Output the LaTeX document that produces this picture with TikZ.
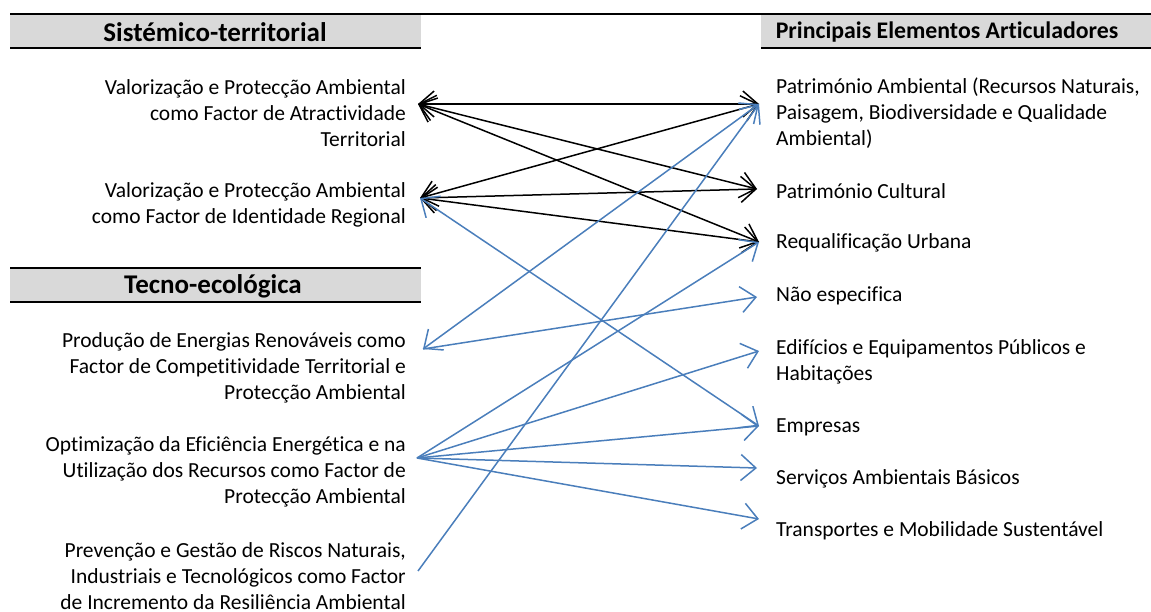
\documentclass[tikz,border=0pt]{standalone}
\usepackage{fontspec}
\setmainfont{Carlito}[Ligatures={NoCommon}]
\usetikzlibrary{arrows.meta}

\begin{document}
\begin{tikzpicture}[x=1pt,y=-1pt,
  lbl/.style={font=\fontsize{21.5}{26}\selectfont, inner sep=0pt, align=right, anchor=east},
  rlbl/.style={font=\fontsize{21.5}{26}\selectfont, inner sep=0pt, align=left, anchor=west},
  hdr/.style={font=\fontsize{27}{30}\selectfont\bfseries, inner sep=0pt},
  band/.style={fill=black!15, draw=none},
  rule/.style={line width=2pt},
  tip/.tip={Straight Barb[length=15pt,width=26pt]},
  blk/.style={line width=1.5pt, tip-tip},
  blu/.style={line width=1.5pt, draw={rgb,255:red,74;green,126;blue,187}, -tip},
  blu2/.style={blu, tip-tip}]
\useasboundingbox (0,0) rectangle (1151,612);

% header bands
\fill[band] (10,14) rectangle (421,48);
\fill[band] (761,14) rectangle (1151,48);
\fill[band] (10,268) rectangle (421,302);
\draw[rule] (10,14) -- (1151,14);
\draw[rule] (10,48) -- (421,48);
\draw[rule] (761,48) -- (1151,48);
\draw[rule] (10,268) -- (421,268);
\draw[rule] (10,302) -- (421,302);
\node[hdr] (hsis) at (215,32) {Sistémico-territorial};
\node[hdr, font=\fontsize{23.8}{28}\selectfont\bfseries] (hprin) at (947,32) {Principais Elementos Articuladores};
\node[hdr] (htec) at (213,286) {Tecno-ecológica};

% left column
\node[lbl] (ta) at (406,113) {Valorização e Protecção Ambiental\\como Factor de Atractividade\\Territorial};
\node[lbl] (tb) at (406,205) {Valorização e Protecção Ambiental\\como Factor de Identidade Regional};
\node[lbl] (tc) at (406,368) {Produção de Energias Renováveis como\\Factor de Competitividade Territorial e\\Protecção Ambiental};
\node[lbl] (td) at (406,472) {Optimização da Eficiência Energética e na\\Utilização dos Recursos como Factor de\\Protecção Ambiental};
\node[lbl] (te) at (406,576) {Prevenção e Gestão de Riscos Naturais,\\Industriais e Tecnológicos como Factor\\de Incremento da Resiliência Ambiental};

% right column
\node[rlbl] (pa) at (776,113) {Património Ambiental (Recursos Naturais,\\Paisagem, Biodiversidade e Qualidade\\Ambiental)};
\node[rlbl] (pb) at (776,191) {Património Cultural};
\node[rlbl] (pc) at (776,243) {Requalificação Urbana};
\node[rlbl] (pd) at (776,296) {Não especifica};
\node[rlbl] (pe) at (776,362) {Edifícios e Equipamentos Públicos e\\Habitações};
\node[rlbl] (pf) at (776,427) {Empresas};
\node[rlbl] (pg) at (776,479) {Serviços Ambientais Básicos};
\node[rlbl] (ph) at (776,531) {Transportes e Mobilidade Sustentável};

% arrow ends
\coordinate (a) at (418,104);
\coordinate (b) at (420,198);
\coordinate (c) at (423,349);
\coordinate (d) at (417,458);
\coordinate (e) at (418,571);
\coordinate (p1) at (759,104);
\coordinate (p2) at (757,189);
\coordinate (p3) at (759,242);
\coordinate (p4) at (757,297);
\coordinate (p5) at (759,351);
\coordinate (p6) at (759,426);
\coordinate (p7) at (757,468);
\coordinate (p8) at (759,519);

% links
\draw[blk] (a) -- (p1);
\draw[blk] (a) -- (p2);
\draw[blk] (a) -- (p3);
\draw[blk] (b) -- (p1);
\draw[blk] (b) -- (p2);
\draw[blk] (b) -- (p3);
\draw[blu2] (b) -- (p6);
\draw[blu2] (c) -- (p1);
\draw[blu] (c) -- (p4);
\draw[blu] (d) -- (p3);
\draw[blu] (d) -- (p5);
\draw[blu] (d) -- (p6);
\draw[blu] (d) -- (p7);
\draw[blu] (d) -- (p8);
\draw[blu] (e) -- (p1);
\end{tikzpicture}
\end{document}
